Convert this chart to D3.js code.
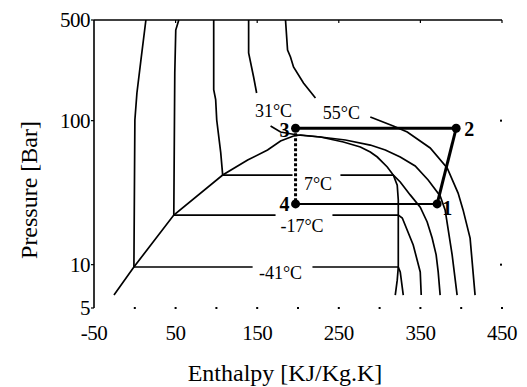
<!DOCTYPE html>
<html><head><meta charset="utf-8">
<script src="https://cdn.jsdelivr.net/npm/d3@7/dist/d3.min.js"></script>
<style>body{margin:0;background:#fff}svg{display:block}</style>
</head><body>
<svg id="c" width="527" height="387"></svg>
<script>
// ---- data (enthalpy kJ/kg, pressure bar) ----
const xTickLabels = [-50, 50, 150, 250, 350, 450];
const xDots = [0, 50, 100, 150, 200, 250, 300, 350, 400, 450];
const xTopTicks = [50, 150, 250, 350, 450];
const yTickLabels = [5, 10, 100, 500];
const yRightDots = [10, 100];

const saturation = [[-25.5,6.15],[-1.1,9.63],[47.8,22.1],[107.7,41.9],[138.3,53.3],[162.7,62.5],[178.6,72.2],[194.5,78.2],[203.1,79.5],[227.5,77],[255.6,71.1],[276.4,65.6],[288.6,60.6],[297.2,55.9],[309.4,47.7],[316.8,41.9],[321.6,35.7],[322.9,28.1],[322.9,9.63],[321.6,7.8],[319.2,6.15]];

const isoM41 = [[13.6,500],[7.5,263.6],[2.6,155.6],[0.1,101],[-1.1,9.63],[144.4,9.63],null,[217.7,9.63],[322.9,9.63],[325.3,8.9],[329,6.15]];
const isoM17 = [[53.9,500],[50.2,426],[49,214],[47.8,22.1],[172.5,22.1],null,[242.2,22.1],[322.9,22.1],[327.8,21.1],[341.2,13.7],[349.8,8.9],[351,6.15]];
const iso7 = [[96.7,500],[96.7,164],[99.1,140],[100.4,101],[105.3,60],[107.7,41.9],[193.3,41.9],null,[252,41.9],[316.8,41.9],[325.3,37.5],[337.5,30.5],[349.8,25.1],[358.3,19.8],[364.4,15.3],[369.3,11.7],[371.8,8.9],[374.2,6.15]];
const iso31 = [[139.5,500],[139.5,295],[145.6,201],[149.3,155.6],null,[166.4,91.8],[178.6,83.4],[199.4,79.5],[227.5,77],[258.1,73.4],[288.6,67.7],[307,62.5],[325.3,55.9],[343.6,48.4],[359.5,38.7],[374.2,30],[380.3,24],[388.9,11.7],[395,6.15]];
const iso55 = [[184.7,500],[187.2,309.5],[190.8,276.7],[194.5,235.8],[206.7,182.6],[221.4,143.7],null,[288.6,106],[316.8,91.8],[333.9,83.4],[362,64.6],[382.8,46.9],[396.2,31.4],[402.3,24],[410.9,15.3],[417,6.15]];

const isoLabelText = ["-41°C", "-17°C", "7°C", "31°C", "55°C"];
const isoLabelH = [178.6, 204.9, 224.5, 170, 253.2];
const isoLabelP = [8.75, 18.6, 36.6, 116, 113];

const cycleNames = ["1", "2", "3", "4"];
const cycleH = [370.5, 393.8, 197, 197];
const cycleP = [26.4, 88.5, 88.5, 26.4];

// ---- drawing ----
const svg = d3.select("#c");
const x = d3.scaleLinear().domain([-50, 450]).range([94, 502]);
const y = d3.scaleLog().domain([5, 500]).range([308, 20]);
const FONT = "Liberation Serif, Times New Roman, serif";

const line = d3.line().defined(d => d !== null).x(d => x(d[0])).y(d => y(d[1]));

// frame: left axis and top line
svg.append("line").attr("x1", x(-50)).attr("x2", x(-50)).attr("y1", y(500)).attr("y2", y(5))
  .attr("stroke", "#000").attr("stroke-width", 1.6);
svg.append("line").attr("x1", x(-50)).attr("x2", x(450)).attr("y1", y(500)).attr("y2", y(500))
  .attr("stroke", "#000").attr("stroke-width", 1.6);

// left ticks
svg.selectAll(".ytk").data(yTickLabels).enter().append("line")
  .attr("x1", x(-50) - 3).attr("x2", x(-50)).attr("y1", d => y(d)).attr("y2", d => y(d))
  .attr("stroke", "#000").attr("stroke-width", 1.2);
// top ticks
svg.selectAll(".xtt").data(xTopTicks).enter().append("line")
  .attr("x1", d => x(d)).attr("x2", d => x(d)).attr("y1", y(500)).attr("y2", y(500) + 3)
  .attr("stroke", "#000").attr("stroke-width", 1.2);
// bottom dots
svg.selectAll(".xd").data(xDots).enter().append("rect")
  .attr("x", d => x(d) - 1).attr("y", y(5) - 1).attr("width", 2).attr("height", 2).attr("fill", "#000");
// right dots
svg.selectAll(".yd").data(yRightDots).enter().append("rect")
  .attr("x", x(450) - 2).attr("y", d => y(d) - 1).attr("width", 2).attr("height", 2).attr("fill", "#000");

// tick labels
svg.selectAll(".ytl").data(yTickLabels).enter().append("text")
  .attr("x", x(-50) - 4).attr("y", d => y(d)).attr("text-anchor", "end").attr("dominant-baseline", "central")
  .attr("font-family", FONT).attr("font-size", 21).attr("letter-spacing", -0.5).text(d => d);
svg.selectAll(".xtl").data(xTickLabels).enter().append("text")
  .attr("x", d => x(d)).attr("y", 333).attr("text-anchor", "middle").attr("dominant-baseline", "central")
  .attr("font-family", FONT).attr("font-size", 21).attr("letter-spacing", -0.5).text(d => d);

// axis titles
svg.append("text").attr("transform", "translate(37,190) rotate(-90)").attr("text-anchor", "middle")
  .attr("font-family", FONT).attr("font-size", 24).text("Pressure [Bar]");
svg.append("text").attr("x", 285).attr("y", 381).attr("text-anchor", "middle")
  .attr("font-family", FONT).attr("font-size", 24).text("Enthalpy [KJ/Kg.K]");

// saturation dome and isotherms
[saturation, isoM41, isoM17, iso7, iso31, iso55].forEach(s => {
  svg.append("path").attr("d", line(s)).attr("fill", "none").attr("stroke", "#000").attr("stroke-width", 1.7);
});

// isotherm labels
svg.selectAll(".il").data(isoLabelText).enter().append("text")
  .attr("x", (d, i) => x(isoLabelH[i])).attr("y", (d, i) => y(isoLabelP[i]))
  .attr("text-anchor", "middle").attr("dominant-baseline", "central")
  .attr("font-family", FONT).attr("font-size", 18).text(d => d);

// cycle
const cyc = cycleNames.map((n, i) => ({ n, h: cycleH[i], p: cycleP[i] }));
const seg = (a, b, w, dash) => {
  const l = svg.append("line").attr("x1", x(a.h)).attr("y1", y(a.p)).attr("x2", x(b.h)).attr("y2", y(b.p))
    .attr("stroke", "#000").attr("stroke-width", w);
  if (dash) l.attr("stroke-dasharray", dash);
};
seg(cyc[0], cyc[1], 3);
seg(cyc[1], cyc[2], 3);
seg(cyc[2], cyc[3], 3, "3,2");
seg(cyc[3], cyc[0], 2);
svg.selectAll(".cp").data(cyc).enter().append("circle")
  .attr("cx", d => x(d.h)).attr("cy", d => y(d.p)).attr("r", 4.5).attr("fill", "#000");
const lblOff = { "1": [10, 4], "2": [13, 1], "3": [-11, 2], "4": [-11, 0] };
svg.selectAll(".cl").data(cyc).enter().append("text")
  .attr("x", d => x(d.h) + lblOff[d.n][0]).attr("y", d => y(d.p) + lblOff[d.n][1])
  .attr("text-anchor", "middle").attr("dominant-baseline", "central")
  .attr("font-family", FONT).attr("font-weight", "bold")
  .attr("font-size", 20).text(d => d.n);
</script>
</body></html>
